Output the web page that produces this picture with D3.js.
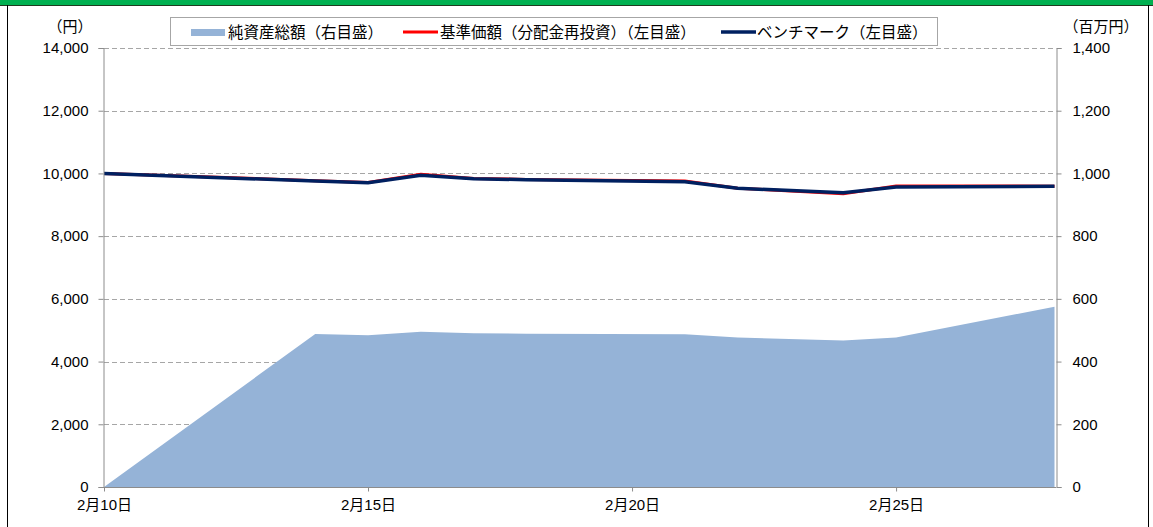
<!DOCTYPE html>
<head>
  <meta charset="utf-8">
  <script src="https://d3js.org/d3.v7.min.js"></script>
  <style>
    body { margin: 0; overflow: hidden; background: #fff; }
    svg { display: block; }
    text { font-family: "Liberation Sans", Arial, "Noto Sans CJK JP", sans-serif; fill: #000; }
  </style>
</head>
<body>
  <svg width="1153" height="527"></svg>
  <script>
    (function (d3) {
      'use strict';

      // data
      const dates = ['2022-02-10', '2022-02-14', '2022-02-15', '2022-02-16', '2022-02-17', '2022-02-18',
                     '2022-02-21', '2022-02-22', '2022-02-24', '2022-02-25', '2022-02-28'];
      const netAssets = [0, 488, 484, 495, 490, 489, 487, 477, 467, 477, 575];          // 百万円, right axis
      const navReinvested = [10000, 9770, 9710, 9970, 9840, 9810, 9760, 9530, 9355, 9600, 9595]; // 円, left axis
      const benchmark = [10000, 9758, 9704, 9940, 9832, 9800, 9736, 9524, 9384, 9566, 9588];
      const leftTicks = [0, 2000, 4000, 6000, 8000, 10000, 12000, 14000];
      const rightTicks = [0, 200, 400, 600, 800, 1000, 1200, 1400];
      const xTicks = ['2022-02-10', '2022-02-15', '2022-02-20', '2022-02-25'];
      const legendLabels = ['純資産総額（右目盛）', '基準価額（分配金再投資）（左目盛）', 'ベンチマーク（左目盛）'];

      const parse = d3.timeParse('%Y-%m-%d');
      const data = dates.map((d, i) => ({
        date: parse(d), assets: netAssets[i], nav: navReinvested[i], bm: benchmark[i]
      }));

      const svg = d3.select('svg');
      const width = +svg.attr('width');
      const height = +svg.attr('height');

      // frame: green header and side borders
      svg.append('rect').attr('x', 0).attr('y', 0).attr('width', width).attr('height', 5).attr('fill', '#00B050');
      svg.append('line').attr('x1', 0).attr('x2', width).attr('y1', 5.5).attr('y2', 5.5).attr('stroke', '#1f3a1f');
      svg.append('line').attr('x1', 7.5).attr('x2', 7.5).attr('y1', 5).attr('y2', height).attr('stroke', '#000');
      svg.append('line').attr('x1', 1148.5).attr('x2', 1148.5).attr('y1', 5).attr('y2', height).attr('stroke', '#000');

      const margin = { left: 104, right: 97, top: 48, bottom: 40 };
      const x0 = margin.left, x1 = width - margin.right;
      const y0 = height - margin.bottom, y1 = margin.top;

      const xScale = d3.scaleTime()
        .domain([parse('2022-02-10'), parse('2022-02-28')])
        .range([x0, x1 - 1.5]);
      const yLeft = d3.scaleLinear().domain([0, 14000]).range([y0, y1]);
      const yRight = d3.scaleLinear().domain([0, 1400]).range([y0, y1]);

      // grid lines
      svg.append('g').selectAll('line').data(leftTicks.slice(1)).join('line')
        .attr('x1', x0).attr('x2', x1)
        .attr('y1', d => Math.round(yLeft(d)) + 0.5).attr('y2', d => Math.round(yLeft(d)) + 0.5)
        .attr('stroke', '#a6a6a6').attr('stroke-dasharray', '5,3');

      // area (net assets, right axis)
      svg.append('path').datum(data)
        .attr('fill', '#95B3D7')
        .attr('d', d3.area().x(d => xScale(d.date)).y0(y0).y1(d => yRight(d.assets)));

      // lines
      const navLine = d3.line().x(d => xScale(d.date)).y(d => yLeft(d.nav));
      const bmLine = d3.line().x(d => xScale(d.date)).y(d => yLeft(d.bm));
      svg.append('path').datum(data).attr('fill', 'none')
        .attr('stroke', '#FF0000').attr('stroke-width', 3).attr('d', navLine);
      svg.append('path').datum(data).attr('fill', 'none')
        .attr('stroke', '#002060').attr('stroke-width', 3.5).attr('d', bmLine);

      // axes
      const leftAxis = svg.append('g').attr('transform', `translate(${x0 - 0.5},0)`)
        .call(d3.axisLeft(yLeft).tickValues(leftTicks).tickSize(5).tickPadding(10)
          .tickFormat(d3.format(',')));
      const rightAxis = svg.append('g').attr('transform', `translate(${x1 + 0.5},0)`)
        .call(d3.axisRight(yRight).tickValues(rightTicks).tickSize(5).tickPadding(11)
          .tickFormat(d3.format(',')));
      const bottomAxis = svg.append('g').attr('transform', `translate(0,${y0 + 0.5})`)
        .call(d3.axisBottom(xScale).tickValues(xTicks.map(parse)).tickSize(4).tickPadding(8)
          .tickFormat(d => `${d.getMonth() + 1}月${d.getDate()}日`));
      [leftAxis, rightAxis, bottomAxis].forEach(a => {
        a.attr('font-family', null).attr('font-size', 15);
        a.selectAll('.domain').attr('stroke', '#8c8c8c');
        a.selectAll('.tick line').attr('stroke', '#8c8c8c');
        a.selectAll('.tick text').attr('fill', '#000');
      });
      bottomAxis.select('.domain').attr('d', `M${x0},0H${x1}`);

      // unit labels
      svg.append('text').attr('x', 70).attr('y', 32).attr('text-anchor', 'middle')
        .attr('font-size', 15).text('（円）');
      svg.append('text').attr('x', 1101).attr('y', 32).attr('text-anchor', 'middle')
        .attr('font-size', 15).text('（百万円）');

      // legend
      const lg = svg.append('g');
      lg.append('rect').attr('x', 170.5).attr('y', 17.5).attr('width', 767).attr('height', 28)
        .attr('fill', '#fff').attr('stroke', '#a6a6a6');
      lg.append('rect').attr('x', 191).attr('y', 29).attr('width', 34).attr('height', 7).attr('fill', '#95B3D7');
      lg.append('line').attr('x1', 403).attr('x2', 438).attr('y1', 32).attr('y2', 32)
        .attr('stroke', '#FF0000').attr('stroke-width', 3);
      lg.append('line').attr('x1', 721).attr('x2', 756).attr('y1', 32).attr('y2', 32)
        .attr('stroke', '#002060').attr('stroke-width', 3.5);
      lg.selectAll('text.lbl').data(legendLabels).join('text')
        .attr('class', 'lbl')
        .attr('x', (d, i) => [228, 440, 757][i])
        .attr('y', 38)
        .attr('font-size', 15.5)
        .text(d => d);

    }(d3));
  </script>
</body>
